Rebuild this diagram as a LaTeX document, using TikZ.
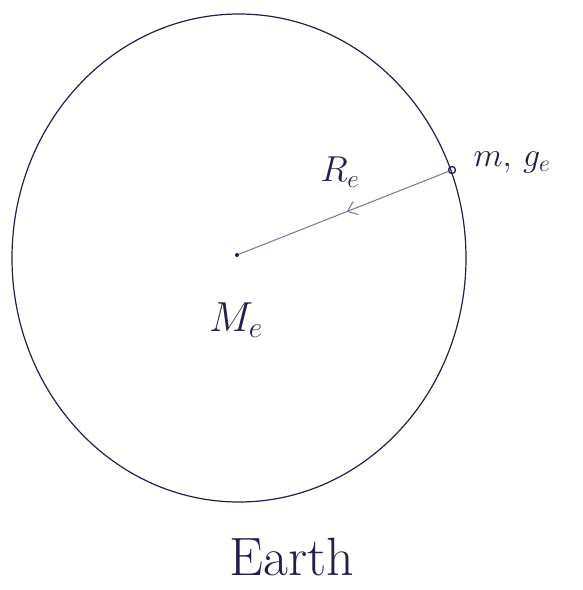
\RequirePackage{fix-cm}
\documentclass[tikz,border=0pt]{standalone}
\usepackage{amsmath}
\usepackage{tikz}
\usetikzlibrary{arrows.meta, positioning, calc, shapes.geometric}
\definecolor{ink}{RGB}{35,30,75}
\definecolor{pencil}{RGB}{125,115,150}

\begin{document}
\begin{tikzpicture}[x=1pt, y=-1pt,
    earthline/.style={draw=ink, line width=1.2pt, ellipse, inner sep=0pt},
    radline/.style={draw=pencil, line width=1pt},
    dot/.style={circle, fill=ink, inner sep=0pt, minimum size=4pt},
    massdot/.style={circle, draw=ink, line width=1.3pt, inner sep=0pt, minimum size=7pt},
    handtext/.style={text=ink, inner sep=0pt}
]
\useasboundingbox (0,0) rectangle (582,590);
% Earth
\node[earthline, minimum width=454pt, minimum height=488pt] (earth) at (239,258) {};
% centre and test mass
\node[dot] (centre) at (237,255) {};
\node[massdot] (mass) at (452,170) {};
\coordinate (rmid) at ($(mass)!0.49!(centre)$);
% radius
\draw[radline, -{Straight Barb[length=9pt, width=14pt]}] (mass) -- (rmid);
\draw[radline] (rmid) -- (centre);
% Labels
\node[handtext, font=\fontsize{36}{36}\selectfont] (rlabel) at (340,172) {$R_e$};
\node[handtext, font=\fontsize{34}{34}\selectfont] (mlabel) at (512,162) {$m,\,g_e$};
\node[handtext, font=\fontsize{42}{42}\selectfont] (Mlabel) at (236,320) {$M_e$};
\node[handtext, font=\fontsize{54}{54}\selectfont] (earthlabel) at (292,557) {Earth};
\end{tikzpicture}
\end{document}
